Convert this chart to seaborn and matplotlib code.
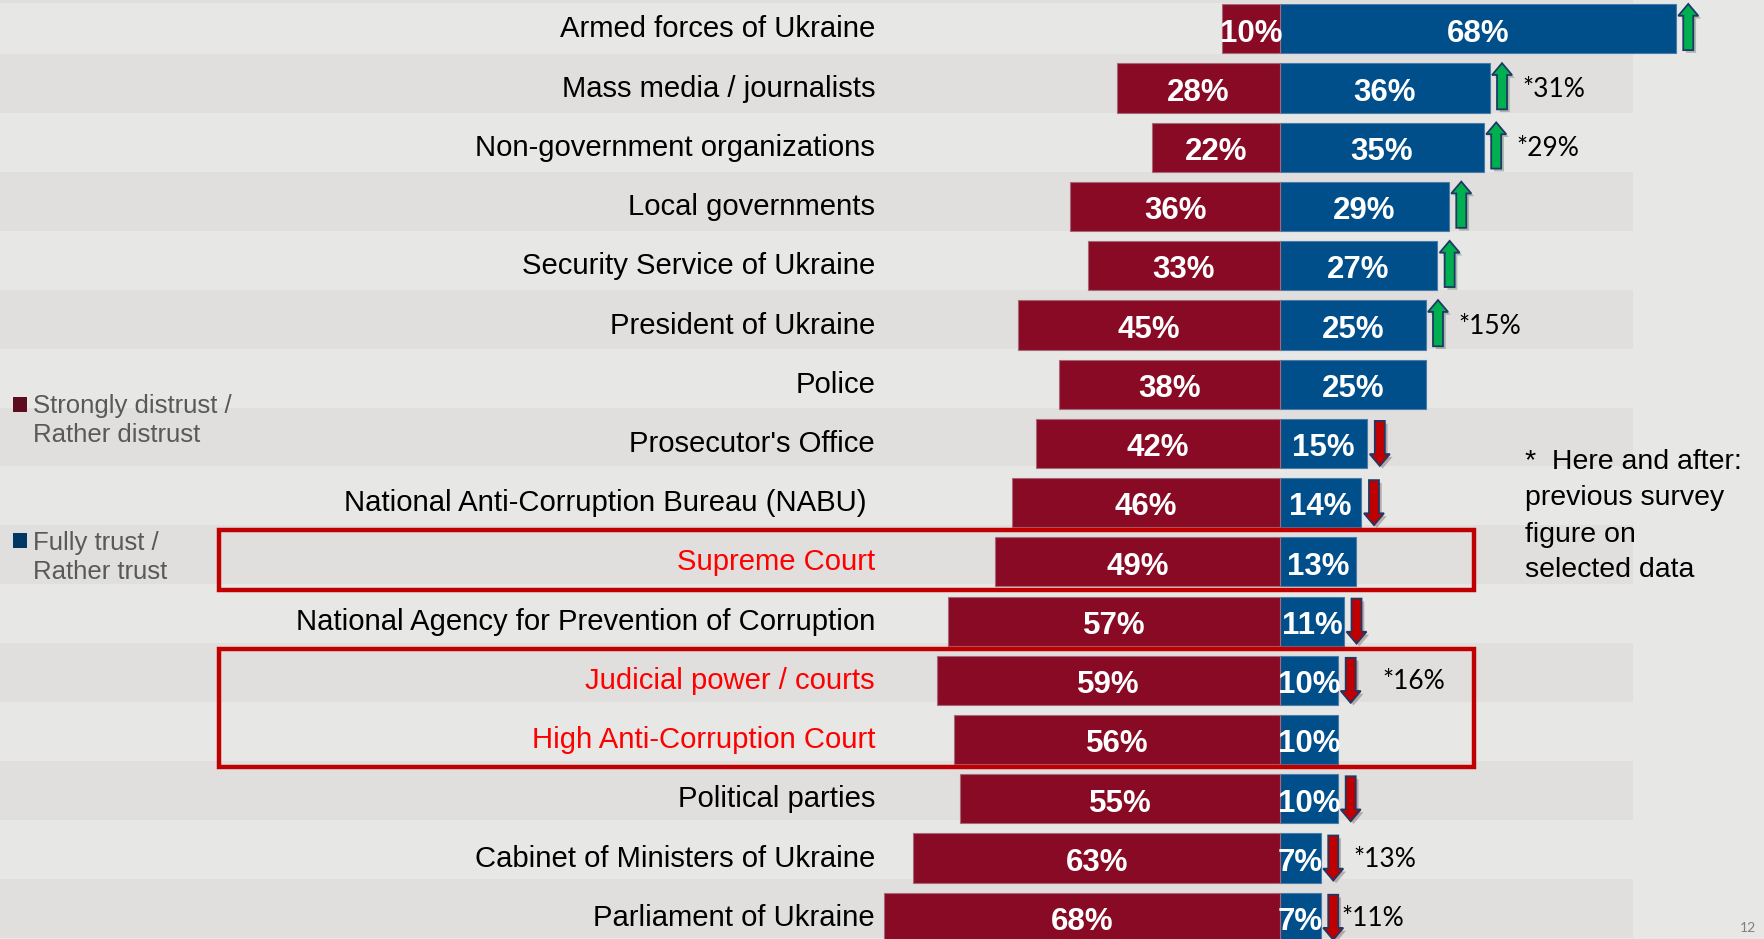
import matplotlib
matplotlib.use("Agg")
import matplotlib.pyplot as plt
import matplotlib.patches as mpatches
import matplotlib.patheffects as pe
import seaborn as sns
import pandas as pd
import numpy as np

# ---------------- data ----------------
categories = [
    "Armed forces of Ukraine",
    "Mass media / journalists",
    "Non-government organizations",
    "Local governments",
    "Security Service of Ukraine",
    "President of Ukraine",
    "Police",
    "Prosecutor's Office",
    "National Anti-Corruption Bureau (NABU) ",
    "Supreme Court",
    "National Agency for Prevention of Corruption",
    "Judicial power / courts",
    "High Anti-Corruption Court",
    "Political parties",
    "Cabinet of Ministers of Ukraine",
    "Parliament of Ukraine",
]
distrust = [10, 28, 22, 36, 33, 45, 38, 42, 46, 49, 57, 59, 56, 55, 63, 68]
trust = [68, 36, 35, 29, 27, 25, 25, 15, 14, 13, 11, 10, 10, 10, 7, 7]
change = ["up", "up", "up", "up", "up", "up", None, "down", "down", None,
          "down", "down", None, "down", "down", "down"]
previous = [None, 31, 29, None, None, 15, None, None, None, None,
            None, 16, None, None, 13, 11]
highlighted = ["Supreme Court", "Judicial power / courts", "High Anti-Corruption Court"]
legend_labels = ["Strongly distrust /\nRather distrust", "Fully trust /\nRather trust"]
note_lines = ["*  Here and after:", "previous survey", "figure on", "selected data"]
page_number = "12"

# ---------------- style ----------------
RED = "#880a24"
BLUE = "#004e8a"
RED_EDGE = "#a8687a"
BLUE_EDGE = "#4a7cab"
RED_LEG = "#5e0b1f"
BLUE_LEG = "#003865"
BG = "#e7e7e6"
STRIPE = "#e0dfde"
GREEN = "#00b050"
ARROW_EDGE = "#1f3864"
DOWN_RED = "#c00000"
HILITE = "#c00000"

W, H = 1764, 939
ZERO_PX = 1280.0
PX_PER_UNIT = 5.82
ROW0_PX = 28.8
ROW_PX = 59.23

df = pd.DataFrame({"institution": categories,
                   "distrust": [-d for d in distrust],
                   "trust": trust})

sns.set_theme(style="white")
plt.rcParams["font.family"] = ["Liberation Sans", "DejaVu Sans"]

fig = plt.figure(figsize=(W / 100, H / 100), dpi=100)
fig.patch.set_facecolor(BG)
ax = fig.add_axes([0, 0, 1, 1])
ax.set_facecolor(BG)

n = len(categories)
# alternating stripes
for i in range(n):
    if i % 2 == 1:
        c = -0.07 + 0.9944 * i
        ax.axhspan(c - 0.497, c + 0.497, xmin=0, xmax=1633 / W, color=STRIPE, zorder=0, lw=0)
# thin strip at the very top
ax.axhspan(-ROW0_PX / ROW_PX, (3 - ROW0_PX) / ROW_PX, xmin=0, xmax=1633 / W,
           color=STRIPE, zorder=0, lw=0)

sns.barplot(data=df, x="trust", y="institution", order=categories, orient="h",
            color=BLUE, width=0.83, errorbar=None, saturation=1, ax=ax, zorder=2,
            edgecolor=BLUE_EDGE, linewidth=0.8)
sns.barplot(data=df, x="distrust", y="institution", order=categories, orient="h",
            color=RED, width=0.83, errorbar=None, saturation=1, ax=ax, zorder=2,
            edgecolor=RED_EDGE, linewidth=0.8)

ax.set_xlim(-ZERO_PX / PX_PER_UNIT, (W - ZERO_PX) / PX_PER_UNIT)
ax.set_ylim((H - ROW0_PX) / ROW_PX, -ROW0_PX / ROW_PX)
ax.set_xlabel("")
ax.set_ylabel("")
ax.set_xticks([])
ax.set_yticks([])
for s in ax.spines.values():
    s.set_visible(False)

label_x = (875 - ZERO_PX) / PX_PER_UNIT
for i, cat in enumerate(categories):
    col = "#ff0000" if cat in highlighted else "black"
    ax.text(label_x, i + 0.01, cat, ha="right", va="center", fontsize=21.1, color=col, zorder=5)
    ax.text(-distrust[i] / 2, i + 0.08, f"{distrust[i]}%", ha="center", va="center",
            fontsize=22.5, fontweight="bold", color="white", zorder=5)
    ax.text(trust[i] / 2, i + 0.08, f"{trust[i]}%", ha="center", va="center",
            fontsize=22.5, fontweight="bold", color="white", zorder=5)

# change arrows
shadow = [pe.SimplePatchShadow(offset=(2, -2), alpha=0.25), pe.Normal()]
arrow_dx = 12.5 / PX_PER_UNIT
for i, c in enumerate(change):
    if c is None:
        continue
    x = trust[i] + arrow_dx
    if c == "up":
        y0, dy, fc = i + 0.36, -0.78, GREEN
    else:
        y0, dy, fc = i - 0.38, 0.76, DOWN_RED
    arr = mpatches.FancyArrow(x, y0, 0, dy, width=10 / PX_PER_UNIT,
                              head_width=20 / PX_PER_UNIT, head_length=0.2,
                              length_includes_head=True, fc=fc, ec=ARROW_EDGE,
                              lw=1.3, zorder=6)
    arr.set_path_effects(shadow)
    ax.add_patch(arr)

# previous-survey notes
note_nudge = {11: 2.0, 15: -2.0}
for i, p in enumerate(previous):
    if p is None:
        continue
    x = trust[i] + 5.6 + note_nudge.get(i, 0)
    ax.text(x, i + 0.02, f"*{p}%", ha="left", va="center", fontsize=19,
            family=["Lato", "DejaVu Sans"], color="black", zorder=6)

# highlight rectangles
groups = []
cur = []
for i, cat in enumerate(categories):
    if cat in highlighted:
        cur.append(i)
    elif cur:
        groups.append(cur)
        cur = []
if cur:
    groups.append(cur)
rx0 = (219 - ZERO_PX) / PX_PER_UNIT
rx1 = (1474 - ZERO_PX) / PX_PER_UNIT
for g in groups:
    y0 = g[0] - 0.53
    y1 = g[-1] + 0.47
    ax.add_patch(mpatches.Rectangle((rx0, y0), rx1 - rx0, y1 - y0, fill=False,
                                    ec=HILITE, lw=3.2, zorder=7))

# legend (drawn manually)
leg_cols = [RED_LEG, BLUE_LEG]
leg_sq_top = [397, 533]
leg_base = [413, 550]
for lab, col, sq, bl in zip(legend_labels, leg_cols, leg_sq_top, leg_base):
    fig.patches.append(mpatches.Rectangle((13 / W, 1 - (sq + 15) / H), 14 / W, 15 / H,
                                          transform=fig.transFigure, fc=col, ec="none"))
    for k, line in enumerate(lab.split("\n")):
        fig.text(33 / W, 1 - (bl + 29 * k) / H, line, ha="left", va="baseline",
                 fontsize=18.5, color="#595959")

# right note
note_base = [469, 505, 542, 577]
for line, bl in zip(note_lines, note_base):
    fig.text(1525 / W, 1 - bl / H, line, ha="left", va="baseline", fontsize=20.5, color="black")

fig.text(1748 / W, 1 - 928 / H, page_number, ha="center", va="center", fontsize=10,
         color="#808080", family=["Lato", "DejaVu Sans"])

fig.savefig("out.png", dpi=100, facecolor=BG)
